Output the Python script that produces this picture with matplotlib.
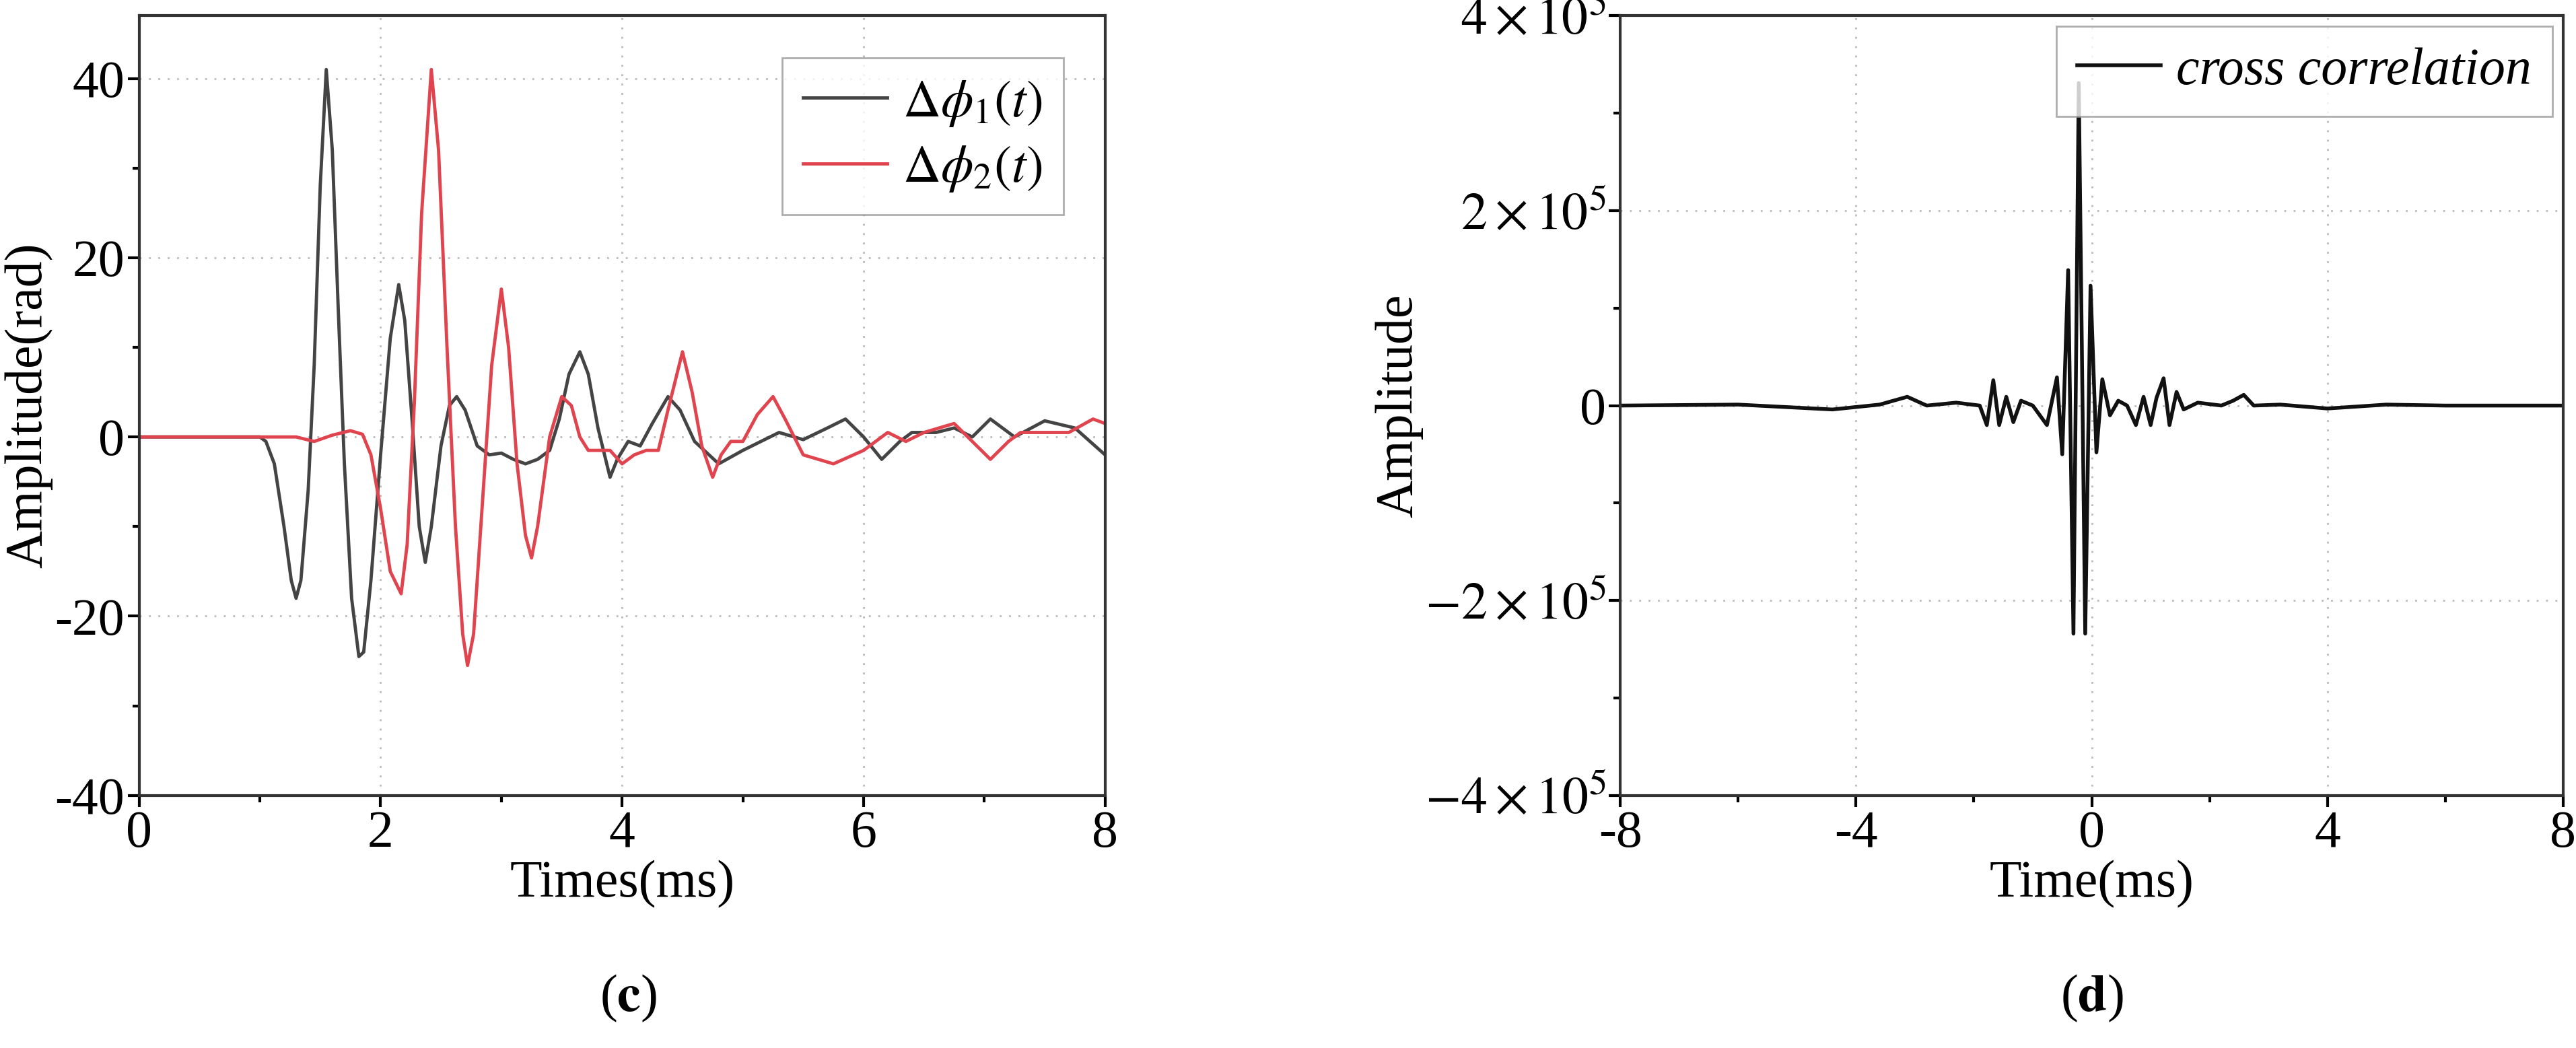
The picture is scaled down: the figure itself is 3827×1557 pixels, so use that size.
import matplotlib.pyplot as plt
from matplotlib.ticker import MultipleLocator, FuncFormatter

plt.rcParams['font.family'] = ['Liberation Serif', 'DejaVu Serif']
plt.rcParams['mathtext.fontset'] = 'stix'
plt.rcParams['axes.unicode_minus'] = False

# (c) phase differences (ms, rad)
t1 = [0, 1.0, 1.05, 1.12, 1.2, 1.26, 1.3, 1.34, 1.4, 1.45, 1.5, 1.55, 1.6, 1.65, 1.7, 1.76,
      1.82, 1.86, 1.92, 2.0, 2.08, 2.15, 2.2, 2.26, 2.32, 2.37, 2.42, 2.5, 2.57, 2.63, 2.7,
      2.8, 2.9, 3.0, 3.1, 3.2, 3.3, 3.4, 3.48, 3.56, 3.65, 3.72, 3.8, 3.9, 3.96, 4.05, 4.15,
      4.25, 4.38, 4.48, 4.6, 4.8, 5.0, 5.3, 5.5, 5.7, 5.85, 6.0, 6.15, 6.3, 6.4, 6.6, 6.75,
      6.9, 7.05, 7.15, 7.25, 7.5, 7.75, 7.9, 8.0]
phi1 = [0, 0, -0.5, -3, -10, -16, -18, -16, -6, 8, 28, 41, 32, 14, -3, -18,
        -24.5, -24, -16, -2, 11, 17, 13, 2, -10, -14, -10, -1, 3.5, 4.5, 3,
        -1, -2, -1.8, -2.5, -3, -2.5, -1.5, 2, 7, 9.5, 7, 1, -4.5, -2.5, -0.5, -1,
        1.5, 4.5, 3, -0.5, -3, -1.5, 0.5, -0.3, 1, 2, 0, -2.5, -0.5, 0.5, 0.5, 1,
        0, 2, 1, 0, 1.8, 1, -0.8, -2]
t2 = [0, 1.3, 1.45, 1.6, 1.75, 1.85, 1.92, 2.0, 2.08, 2.17, 2.22, 2.28, 2.34, 2.42, 2.48,
      2.55, 2.62, 2.68, 2.72, 2.77, 2.84, 2.92, 3.0, 3.06, 3.13, 3.2, 3.25, 3.3, 3.4, 3.5,
      3.58, 3.65, 3.72, 3.9, 4.0, 4.1, 4.2, 4.3, 4.38, 4.5, 4.58, 4.66, 4.75, 4.82, 4.9,
      5.0, 5.12, 5.25, 5.35, 5.5, 5.75, 6.0, 6.2, 6.35, 6.5, 6.75, 6.9, 7.05, 7.2, 7.3,
      7.45, 7.7, 7.9, 8.0]
phi2 = [0, 0, -0.5, 0.2, 0.7, 0.3, -2, -8, -15, -17.5, -12, 4, 25, 41, 32,
        10, -10, -22, -25.5, -22, -8, 8, 16.5, 10, -3, -11, -13.5, -10, 0, 4.5,
        3.5, 0, -1.5, -1.5, -3, -2, -1.5, -1.5, 3, 9.5, 5, -1, -4.5, -2, -0.5,
        -0.5, 2.5, 4.5, 2, -2, -3, -1.5, 0.5, -0.5, 0.5, 1.5, -0.5, -2.5, -0.5, 0.5,
        0.5, 0.5, 2, 1.5]

# (d) cross correlation (ms, x1e5)
tc = [-8, -6, -4.4, -3.6, -3.13, -2.8, -2.3, -1.9, -1.78, -1.67, -1.57, -1.45, -1.33, -1.2,
      -1.0, -0.76, -0.59, -0.5, -0.4, -0.31, -0.22, -0.11, -0.02, 0.08, 0.18, 0.31, 0.45,
      0.6, 0.75, 0.88, 1.0, 1.1, 1.22, 1.32, 1.44, 1.56, 1.8, 2.2, 2.4, 2.58, 2.75, 3.2,
      4.0, 5.0, 6.0, 8.0]
cc = [0, 0.01, -0.04, 0.01, 0.09, 0.0, 0.03, 0.0, -0.2, 0.26, -0.2, 0.09, -0.17, 0.05,
      0.0, -0.2, 0.29, -0.5, 1.39, -2.34, 3.31, -2.34, 1.23, -0.48, 0.27, -0.1, 0.05,
      0.0, -0.2, 0.09, -0.2, 0.08, 0.28, -0.2, 0.14, -0.04, 0.03, 0.0, 0.05, 0.11, 0.0, 0.01,
      -0.03, 0.01, 0.0, 0.0]

fig = plt.figure(figsize=(38.27, 15.57), dpi=100)
fs = 56

ax1 = fig.add_axes([0.054, 0.241, 0.375, 0.744])
ax1.plot(t1, phi1, color='#444444', lw=3.5, label=r'$\mathit{\Delta\phi}_1(t)$')
ax1.plot(t2, phi2, color='#e0454f', lw=3.5, label=r'$\mathit{\Delta\phi}_2(t)$')
ax1.set_xlim(0, 8)
ax1.set_ylim(-40, 47)
ax1.xaxis.set_major_locator(MultipleLocator(2))
ax1.xaxis.set_minor_locator(MultipleLocator(1))
ax1.yaxis.set_major_locator(MultipleLocator(20))
ax1.yaxis.set_minor_locator(MultipleLocator(10))
ax1.set_xlabel('Times(ms)', fontsize=fs, labelpad=2)
ax1.set_ylabel('Amplitude(rad)', fontsize=fs, labelpad=2)
leg = ax1.legend(loc='upper right', fontsize=fs, fancybox=False, edgecolor='#999999',
                 handlelength=1.6, handletextpad=0.3, borderaxespad=0.8, labelspacing=0.3)
leg.get_frame().set_linewidth(2)

ax2 = fig.add_axes([0.629, 0.241, 0.366, 0.744])
ax2.plot(tc, cc, color='#111111', lw=4, label='cross correlation')
ax2.set_xlim(-8, 8)
ax2.set_ylim(-4, 4)
ax2.xaxis.set_major_locator(MultipleLocator(4))
ax2.xaxis.set_minor_locator(MultipleLocator(2))
ax2.yaxis.set_major_locator(MultipleLocator(2))
ax2.yaxis.set_minor_locator(MultipleLocator(1))
ax2.yaxis.set_major_formatter(FuncFormatter(
    lambda v, p: '0' if v == 0 else r'$%s%d\times10^5$' % ('-' if v < 0 else '', abs(v))))
ax2.set_xlabel('Time(ms)', fontsize=fs, labelpad=2)
ax2.set_ylabel('Amplitude', fontsize=fs, labelpad=2)
leg2 = ax2.legend(loc='upper right', fancybox=False, edgecolor='#999999',
                  prop={'style': 'italic', 'size': fs}, handlelength=1.6,
                  handletextpad=0.3, borderaxespad=0.2)
leg2.get_frame().set_linewidth(2)

for ax in (ax1, ax2):
    ax.grid(True, which='major', linestyle=(0, (1, 4)), color='#bbbbbb', lw=2)
    ax.tick_params(which='major', labelsize=fs, length=12, width=3, direction='out')
    ax.tick_params(which='minor', length=7, width=3, direction='out')
    for s in ax.spines.values():
        s.set_linewidth(3)
        s.set_color('#333333')

fig.text(0.244, 0.035, r'($\mathbf{c}$)', fontsize=fs, ha='center')
fig.text(0.812, 0.035, r'($\mathbf{d}$)', fontsize=fs, ha='center')
fig.savefig('out.png', dpi=100)
